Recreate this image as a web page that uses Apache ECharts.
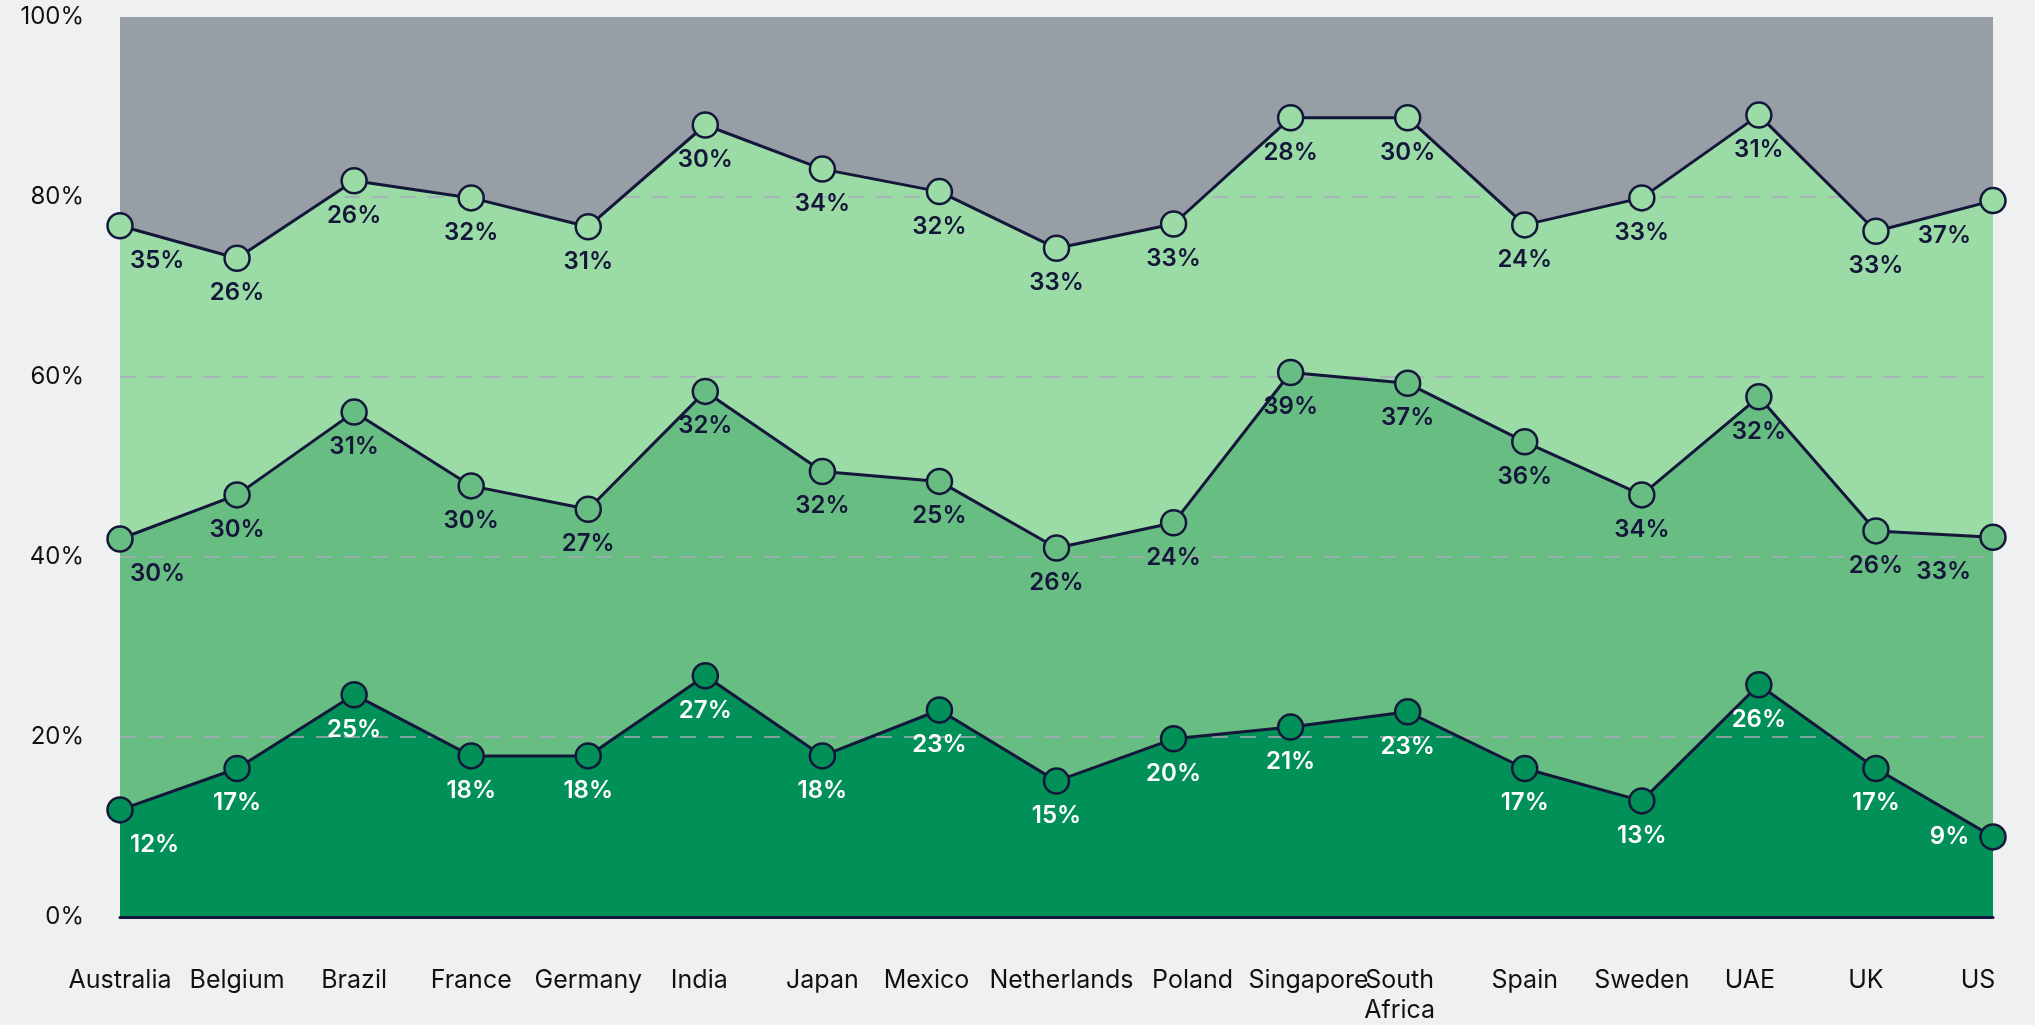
<!DOCTYPE html>
<html lang="en">
<head>
    <meta charset="UTF-8" />
    <title>Stacked shares by country</title>
    <script src="https://cdn.jsdelivr.net/npm/echarts@6/dist/echarts.min.js"></script>
    <style>
        html, body { margin: 0; padding: 0; background: #eff0f2; }
    </style>
</head>
<body>
    <div id="main" style="width: 2035px; height: 1025px"></div>
    <script type="text/javascript">
        // values (percent per country, stacked bottom -> top)
        // labels show them rounded, positions use the finer estimate
        const countries = ["Australia", "Belgium", "Brazil", "France", "Germany", "India", "Japan", "Mexico",
            "Netherlands", "Poland", "Singapore", "South\nAfrica", "Spain", "Sweden", "UAE", "UK", "US"];
        const bottomShare = [11.9, 16.5, 24.7, 17.9, 17.9, 26.8, 17.9, 23.0, 15.1, 19.8, 21.1, 22.8, 16.5, 12.9, 25.8, 16.5, 8.9];
        const middleShare = [30.1, 30.4, 31.4, 30.0, 27.4, 31.6, 31.6, 25.4, 25.9, 24.0, 39.4, 36.5, 36.3, 34.0, 32.0, 26.4, 33.3];
        const topShare = [34.8, 26.3, 25.7, 32.0, 31.4, 29.6, 33.6, 32.2, 33.3, 33.2, 28.3, 29.5, 24.1, 33.0, 31.3, 33.3, 37.4];
        const yTicks = [0, 20, 40, 60, 80, 100];

        // grey band above the top line, up to 100%
        const restShare = topShare.map((t, i) => 100 - t - middleShare[i] - bottomShare[i]);

        const navy = "#15173a";
        const font = "Inter";
        const greens = ["#009058", "#68bd83", "#9adba6"];

        // small horizontal nudges of some country names, like in the original
        const nudge = { "India": -6, "Mexico": -13, "Netherlands": 5, "Poland": 19, "Singapore": 18,
            "South\nAfrica": -8, "UAE": -9, "UK": -10, "US": -15 };
        const xData = countries.map((c) => {
            const dx = nudge[c] || 0;
            if (!dx) return c;
            return { value: c, textStyle: { padding: dx > 0 ? [0, 0, 0, 2 * dx] : [0, -2 * dx, 0, 0] } };
        });

        // first point label sits to the right, last one to the left
        function withLabels(values, last) {
            return values.map((v, i) => {
                if (i === 0) return { value: v, label: { align: "left", offset: [10, 0] } };
                if (i === values.length - 1) {
                    if (last === "left") return { value: v, label: { position: "left", distance: 10 } };
                    return { value: v, label: { align: "right", offset: [-22, 0] } };
                }
                return v;
            });
        }

        // filled band only (sits under the dashed grid lines)
        function band(values, color, z) {
            return {
                type: "line",
                stack: "area",
                data: values,
                symbol: "none",
                silent: true,
                z: z,
                lineStyle: { width: 0 },
                areaStyle: { color: color, opacity: 1 }
            };
        }

        // outline, markers and labels (on top of everything)
        function outline(values, color, textColor, last) {
            return {
                type: "line",
                stack: "outline",
                data: withLabels(values, last),
                symbol: "circle",
                symbolSize: 25,
                showAllSymbol: true,
                z: 6,
                lineStyle: { color: navy, width: 3 },
                itemStyle: { color: color, borderColor: navy, borderWidth: 2.5 },
                label: {
                    show: true,
                    position: "bottom",
                    distance: 9,
                    formatter: (p) => Math.round(p.value) + "%",
                    color: textColor,
                    fontFamily: font,
                    fontSize: 24,
                    fontWeight: 600
                },
                emphasis: { disabled: true }
            };
        }

        let myChart = echarts.init(document.getElementById("main"));
        myChart.setOption({
            backgroundColor: "#eff0f2",
            animation: false,
            grid: { left: 120, right: 42, top: 17, bottom: 103 },
            xAxis: {
                type: "category",
                data: xData,
                boundaryGap: false,
                z: 7,
                axisLine: { lineStyle: { color: navy, width: 3 } },
                axisTick: { show: false },
                axisLabel: {
                    color: "#111",
                    fontFamily: font,
                    fontSize: 25,
                    margin: 48,
                    interval: 0,
                    lineHeight: 30
                }
            },
            yAxis: {
                type: "value",
                min: 0,
                max: 100,
                interval: 20,
                z: 3,
                axisLine: { show: false },
                axisTick: { show: false },
                axisLabel: {
                    color: "#111",
                    fontFamily: font,
                    fontSize: 24,
                    margin: 36,
                    formatter: (v) => yTicks.includes(v) ? v + "%" : ""
                },
                splitLine: {
                    show: true,
                    showMinLine: false,
                    showMaxLine: false,
                    lineStyle: { color: "#a9a9b8", type: [16, 12], width: 1.5 }
                }
            },
            series: [
                band(bottomShare, greens[0], 1),
                band(middleShare, greens[1], 1),
                band(topShare, greens[2], 1),
                band(restShare, "#979ea6", 4),
                outline(bottomShare, greens[0], "#ffffff", "left"),
                outline(middleShare, greens[1], navy, "right"),
                outline(topShare, greens[2], navy, "right")
            ]
        });
    </script>
</body>
</html>
